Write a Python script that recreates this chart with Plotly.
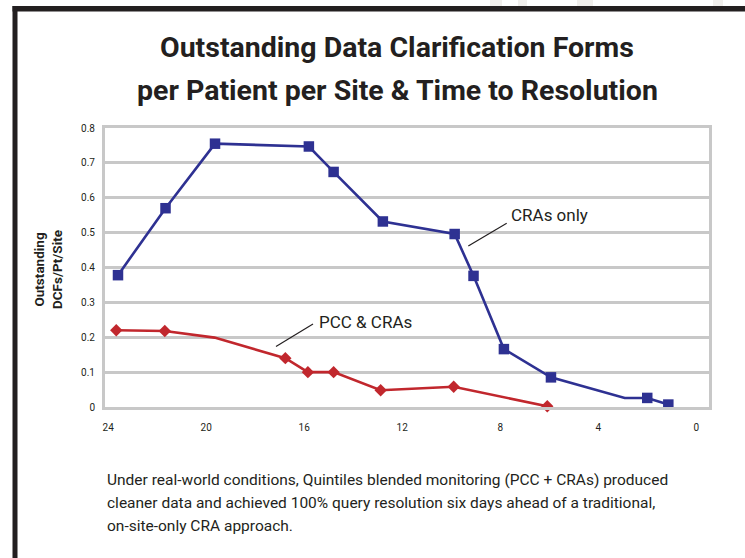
import plotly.graph_objects as go

# ---------------- data ----------------
cra_days = [23.6, 21.66, 19.64, 15.81, 14.8, 12.79, 9.86, 9.09, 7.85, 5.93, 2.92, 2.0, 1.14]
cra_values = [0.378, 0.570, 0.755, 0.747, 0.674, 0.532, 0.496, 0.376, 0.166, 0.085, 0.026, 0.026, 0.007]
cra_marked = [True, True, True, True, True, True, True, True, True, True, False, True, True]

pcc_days = [23.67, 21.69, 19.66, 16.77, 15.85, 14.8, 12.88, 9.9, 6.08]
pcc_values = [0.220, 0.218, 0.199, 0.140, 0.100, 0.100, 0.048, 0.058, 0.002]
pcc_marked = [True, True, False, True, True, True, True, True, True]

x_ticks = [24, 20, 16, 12, 8, 4, 0]
y_ticks = [0, 0.1, 0.2, 0.3, 0.4, 0.5, 0.6, 0.7, 0.8]
y_tick_labels = ["0", "0.1", "0.2", "0.3", "0.4", "0.5", "0.6", "0.7", "0.8"]

title_lines = ["Outstanding Data Clarification Forms",
               "per Patient per Site &amp; Time to Resolution"]
y_title = "Outstanding<br>DCFs/Pt/Site"
caption_lines = [
    "Under real-world conditions, Quintiles blended monitoring (PCC + CRAs) produced",
    "cleaner data and achieved 100% query resolution six days ahead of a traditional,",
    "on-site-only CRA approach.",
]

# ---------------- layout geometry ----------------
W, H = 745, 558
ML, MR, MT, MB = 105, 36, 128, 151
PW, PH = W - ML - MR, H - MT - MB

def px_x(px):
    return (px - ML) / PW

def px_y(py):
    return 1 - (py - MT) / PH

FONT = "Roboto, Liberation Sans Narrow, DejaVu Sans Condensed, sans-serif"
INK = "#231f20"
BLUE = "#2e3192"
RED = "#c1272d"
GRID = "#c8c8c8"

fig = go.Figure()

fig.add_trace(go.Scatter(
    x=cra_days, y=cra_values, mode="lines+markers",
    line=dict(color=BLUE, width=2.6),
    marker=dict(symbol="square", color=BLUE, opacity=1, line=dict(width=0),
                size=[10.5 if m else 0 for m in cra_marked]),
    showlegend=False, cliponaxis=False, hoverinfo="skip",
))
fig.add_trace(go.Scatter(
    x=pcc_days, y=pcc_values, mode="lines+markers",
    line=dict(color=RED, width=2.6),
    marker=dict(symbol="diamond", color=RED, opacity=1, line=dict(width=0),
                size=[9.5 if m else 0 for m in pcc_marked]),
    showlegend=False, cliponaxis=False, hoverinfo="skip",
))

annotations = []
# Title
for line, py in zip(title_lines, [47, 90]):
    annotations.append(dict(
        text="<b>" + line + "</b>", xref="paper", yref="paper",
        x=px_x(397), y=px_y(py), xanchor="center", yanchor="middle",
        showarrow=False, font=dict(family=FONT, size=28.5, color=INK)))
# Y axis title
annotations.append(dict(
    text="<b>" + y_title + "</b>", xref="paper", yref="paper",
    x=px_x(48), y=px_y(270), xanchor="center", yanchor="middle",
    textangle=-90, showarrow=False,
    font=dict(family=FONT, size=13.5, color=INK)))
# Series labels
annotations.append(dict(
    text="CRAs only", xref="paper", yref="paper",
    x=px_x(509), y=px_y(215), xanchor="left", yanchor="middle",
    showarrow=False, font=dict(family=FONT, size=17, color=INK)))
annotations.append(dict(
    text="PCC &amp; CRAs", xref="paper", yref="paper",
    x=px_x(317), y=px_y(322), xanchor="left", yanchor="middle",
    showarrow=False, font=dict(family=FONT, size=17, color=INK)))
# Caption
for line, py in zip(caption_lines, [480, 503, 526]):
    annotations.append(dict(
        text=line, xref="paper", yref="paper",
        x=px_x(105), y=px_y(py), xanchor="left", yanchor="middle",
        showarrow=False, font=dict(family=FONT, size=15.5, color=INK)))

shapes = [
    # leader lines
    dict(type="line", xref="paper", yref="paper",
         x0=px_x(506.7), y0=px_y(223.3), x1=px_x(468.3), y1=px_y(246),
         line=dict(color=INK, width=1.2)),
    dict(type="line", xref="paper", yref="paper",
         x0=px_x(313), y0=px_y(324), x1=px_x(276), y1=px_y(346.5),
         line=dict(color=INK, width=1.2)),
]
# faint background blocks above the frame
for x0, x1 in [(490, 502), (518, 527), (577, 593), (713, 723)]:
    shapes.append(dict(type="rect", xref="paper", yref="paper",
                       x0=px_x(x0), x1=px_x(x1), y0=px_y(0), y1=px_y(6),
                       line=dict(width=0), fillcolor="#f1efed", layer="below"))
# black frame (top and left)
shapes.append(dict(type="rect", xref="paper", yref="paper",
                   x0=px_x(12.5), x1=px_x(760), y0=px_y(6), y1=px_y(11.5),
                   line=dict(width=0), fillcolor=INK))
shapes.append(dict(type="rect", xref="paper", yref="paper",
                   x0=px_x(12.5), x1=px_x(17.5), y0=px_y(6), y1=px_y(570),
                   line=dict(width=0), fillcolor=INK))

fig.update_layout(
    width=W, height=H,
    margin=dict(l=ML, r=MR, t=MT, b=MB, pad=0),
    paper_bgcolor="white", plot_bgcolor="white",
    annotations=annotations, shapes=shapes,
    font=dict(family=FONT, color=INK),
    hovermode=False,
)
fig.update_xaxes(
    range=[24.13, -0.52], tickvals=x_ticks, ticktext=[str(v) for v in x_ticks],
    showgrid=False, zeroline=False,
    showline=True, mirror=True, linecolor=GRID, linewidth=3,
    ticks="outside", ticklen=9, tickcolor="rgba(0,0,0,0)",
    tickfont=dict(family=FONT, size=10, color=INK),
)
fig.update_yaxes(
    range=[0, 0.8], tickvals=y_ticks, ticktext=y_tick_labels,
    showgrid=True, gridcolor=GRID, gridwidth=3, zeroline=False,
    showline=True, mirror=True, linecolor=GRID, linewidth=3,
    ticks="outside", ticklen=5, tickcolor="rgba(0,0,0,0)",
    tickfont=dict(family=FONT, size=10, color=INK),
)

fig.write_html("out.html", config={"displayModeBar": False},
               post_script="document.body.style.margin='0';document.body.style.overflow='hidden';")
